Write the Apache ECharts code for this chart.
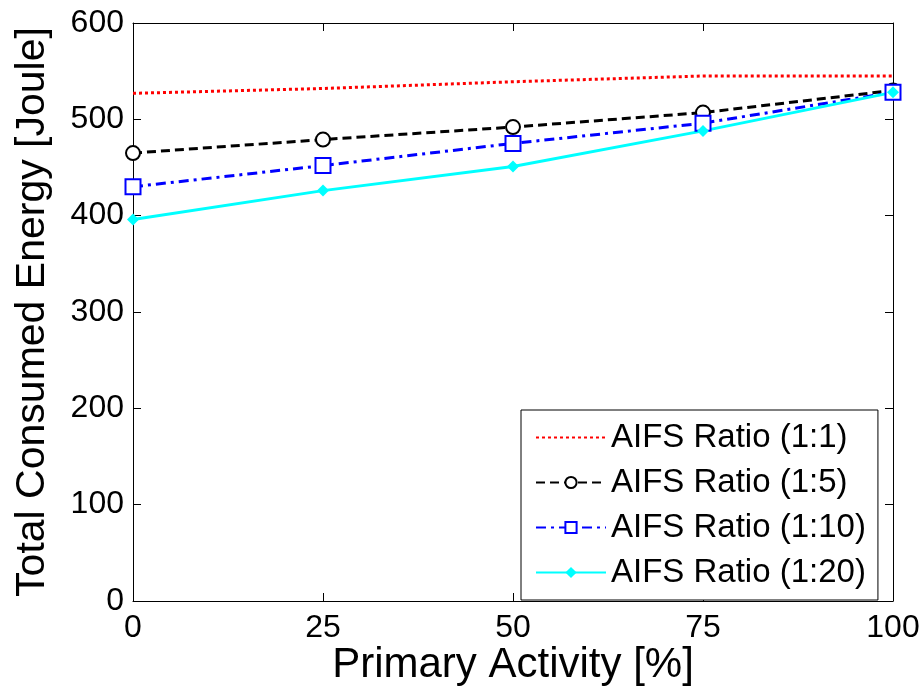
<!DOCTYPE html>
<html>
<head>
<meta charset="utf-8">
<script src="https://cdn.jsdelivr.net/npm/echarts@6/dist/echarts.min.js"></script>
<style>html,body{margin:0;padding:0;background:#fff;}#c{width:924px;height:692px;}</style>
</head>
<body>
<div id="c"></div>
<script>
const xValues = [0, 25, 50, 75, 100];
const ratio1 = [527, 532, 539, 545, 545];
const ratio5 = [465, 479, 492, 507, 530];
const ratio10 = [430, 452, 475, 496, 528];
const ratio20 = [396, 426, 451, 488, 528];
const seriesNames = ['AIFS Ratio (1:1)', 'AIFS Ratio (1:5)', 'AIFS Ratio (1:10)', 'AIFS Ratio (1:20)'];
const xTitle = 'Primary Activity [%]';
const yTitle = 'Total Consumed Energy [Joule]';

const FONT = '"Liberation Sans", Arial, sans-serif';
const pair = arr => xValues.map((x, i) => [x, arr[i]]);

const chart = echarts.init(document.getElementById('c'), null, {renderer: 'canvas'});
function axisBase(extra) {
  return Object.assign({
    axisLine: {show: true, onZero: false, lineStyle: {color: '#000', width: 1}},
    axisTick: {show: true, inside: true, length: 8, lineStyle: {color: '#000', width: 1}},
    splitLine: {show: false}
  }, extra);
}
chart.setOption({
  animation: false,
  backgroundColor: '#fff',
  grid: {left: 133, right: 31, top: 23, bottom: 91, containLabel: false, outerBoundsMode: 'none'},
  xAxis: [
    axisBase({type: 'value', min: 0, max: 100, interval: 25, position: 'bottom',
      axisLabel: {color: '#000', fontSize: 32, fontFamily: FONT, margin: 11},
      name: xTitle, nameLocation: 'middle', nameGap: 43, nameMoveOverlap: false,
      nameTextStyle: {color: '#000', fontSize: 42, fontFamily: FONT}}),
    axisBase({type: 'value', min: 0, max: 100, interval: 25, position: 'top',
      axisLabel: {show: false}})
  ],
  yAxis: [
    axisBase({type: 'value', min: 0, max: 600, interval: 100, position: 'left',
      axisLabel: {color: '#000', fontSize: 32, fontFamily: FONT, margin: 9},
      name: yTitle, nameLocation: 'middle', nameGap: 80, nameMoveOverlap: false,
      nameTextStyle: {color: '#000', fontSize: 41, fontFamily: FONT}}),
    axisBase({type: 'value', min: 0, max: 600, interval: 100, position: 'right',
      axisLabel: {show: false}})
  ],
  legend: {
    orient: 'vertical', left: 521, top: 410,
    backgroundColor: '#fff', borderColor: '#000', borderWidth: 1,
    padding: [11, 12, 11, 14], itemGap: 12, itemWidth: 70, itemHeight: 14,
    textStyle: {color: '#000', fontSize: 33, fontFamily: FONT, lineHeight: 31},
    data: [
      {name: seriesNames[0], itemStyle: {color: 'rgba(0,0,0,0)', borderColor: 'rgba(0,0,0,0)', borderWidth: 0}},
      seriesNames[1], seriesNames[2], seriesNames[3]
    ]
  },
  series: [
    {name: seriesNames[0], type: 'line', data: pair(ratio1), symbol: 'none', clip: false,
      lineStyle: {color: '#ff0000', width: 3, type: [3, 3]}, itemStyle: {color: '#ff0000'}},
    {name: seriesNames[1], type: 'line', data: pair(ratio5), symbol: 'emptyCircle', symbolSize: 14, clip: false,
      lineStyle: {color: '#000', width: 3, type: [9, 5]},
      itemStyle: {color: '#000', borderColor: '#000', borderWidth: 2.5}},
    {name: seriesNames[2], type: 'line', data: pair(ratio10), symbol: 'emptyRect', symbolSize: 15, clip: false,
      lineStyle: {color: '#0000ff', width: 3, type: [10, 5, 3, 5]},
      itemStyle: {color: '#0000ff', borderColor: '#0000ff', borderWidth: 2.5}},
    {name: seriesNames[3], type: 'line', data: pair(ratio20), symbol: 'diamond', symbolSize: 12, clip: false,
      lineStyle: {color: '#00ffff', width: 3, type: 'solid'},
      itemStyle: {color: '#00ffff'}}
  ]
});
</script>
</body>
</html>
